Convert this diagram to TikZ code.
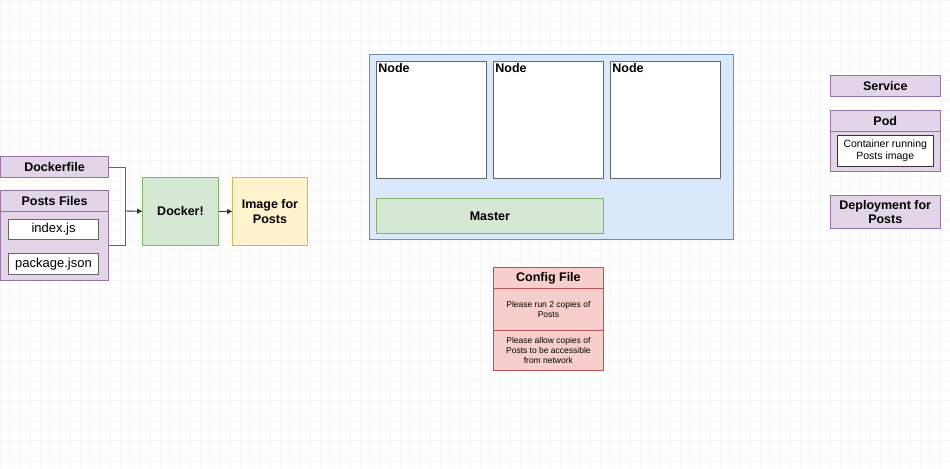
\documentclass[tikz,border=0pt]{standalone}
\usepackage{fontspec}
\setmainfont{Liberation Sans}
\usetikzlibrary{arrows.meta}

\definecolor{purplefill}{HTML}{E1D5E7}
\definecolor{purpleline}{HTML}{9673A6}
\definecolor{greenfill}{HTML}{D5E8D4}
\definecolor{greenline}{HTML}{82B366}
\definecolor{yellowfill}{HTML}{FFF2CC}
\definecolor{yellowline}{HTML}{D6B656}
\definecolor{bluefill}{HTML}{DAE8FC}
\definecolor{blueline}{HTML}{6C8EBF}
\definecolor{redfill}{HTML}{F8CECC}
\definecolor{redline}{HTML}{B85450}
\definecolor{nodeline}{HTML}{666666}

\begin{document}
\begin{tikzpicture}[x=1pt,y=-1pt,>={Triangle[length=5pt,width=5pt]},line width=0.8pt,
  box/.style={draw,anchor=north west,inner sep=0pt,align=center,font=\bfseries\fontsize{12.5}{14.5}\selectfont},
  purple box/.style={box,fill=purplefill,draw=purpleline},
  white box/.style={box,fill=white,draw=nodeline,font=\fontsize{13}{15}\selectfont},
  red box/.style={box,fill=redfill,draw=redline,font=\fontsize{8.5}{10}\selectfont},
  worker/.style={box,fill=white,draw=nodeline,minimum width=110pt,minimum height=117pt,
    label={[anchor=north west,inner sep=2pt,font=\bfseries\fontsize{12.5}{14.5}\selectfont]north west:Node}}]

  % canvas and grid
  \fill[white] (0,0) rectangle (950,468);
  \foreach \gx in {0,10,...,950} \draw[black!4,line width=0.3pt] (\gx,0) -- (\gx,468);
  \foreach \gy in {0,10,...,460} \draw[black!4,line width=0.3pt] (0,\gy) -- (950,\gy);
  \useasboundingbox (0,0) rectangle (950,468);

  % build side
  \node[purple box,minimum width=108pt,minimum height=21pt] (dockerfile) at (0,156) {Dockerfile};
  \node[purple box,minimum width=108pt,minimum height=90pt] (postsfiles) at (0,190) {};
  \node[purple box,minimum width=108pt,minimum height=21pt] (postshead) at (0,190) {Posts Files};
  \node[white box,minimum width=90pt,minimum height=20pt] (indexjs) at (8,219) {index.js};
  \node[white box,minimum width=90pt,minimum height=21pt] (packagejson) at (8,253) {package.json};

  \node[box,fill=greenfill,draw=greenline,minimum width=76pt,minimum height=68pt] (docker) at (142,177) {Docker!};
  \node[box,fill=yellowfill,draw=yellowline,minimum width=75pt,minimum height=68pt] (image) at (232,177) {Image for\\Posts};

  \coordinate (join) at (125,211);
  \draw[nodeline] (dockerfile.east) -| (join);
  \draw[nodeline] ([yshift=-10pt]postsfiles.east) -| (join);
  \draw[->,black!80] (join) -- (docker);
  \draw[->,black!80] (docker) -- (image);

  % cluster
  \node[box,fill=bluefill,draw=blueline,minimum width=364pt,minimum height=185pt] (cluster) at (369,54) {};
  \node[worker] (node1) at (376,61) {};
  \node[worker] (node2) at (493,61) {};
  \node[worker] (node3) at (610,61) {};
  \node[box,fill=greenfill,draw=greenline,minimum width=227pt,minimum height=35pt] (master) at (376,198) {Master};

  % config file
  \node[red box,font=\bfseries\fontsize{12.5}{14.5}\selectfont,minimum width=110pt,minimum height=21pt] (confighead) at (493,267) {Config File};
  \node[red box,minimum width=110pt,minimum height=42pt] (configrun) at (493,288) {Please run 2 copies of\\Posts};
  \node[red box,minimum width=110pt,minimum height=40pt] (configallow) at (493,330) {Please allow copies of\\Posts to be accessible\\from network};

  % k8s objects
  \node[purple box,minimum width=110pt,minimum height=21pt] (service) at (830,75) {Service};
  \node[purple box,minimum width=110pt,minimum height=61pt] (pod) at (830,110) {};
  \node[purple box,minimum width=110pt,minimum height=21pt] (podhead) at (830,110) {Pod};
  \node[white box,draw=black!80,font=\fontsize{10.5}{12}\selectfont,minimum width=96pt,minimum height=31pt] (container) at (837,135) {Container running\\Posts image};
  \node[purple box,minimum width=110pt,minimum height=33pt] (deployment) at (830,195) {Deployment for\\Posts};
\end{tikzpicture}
\end{document}
